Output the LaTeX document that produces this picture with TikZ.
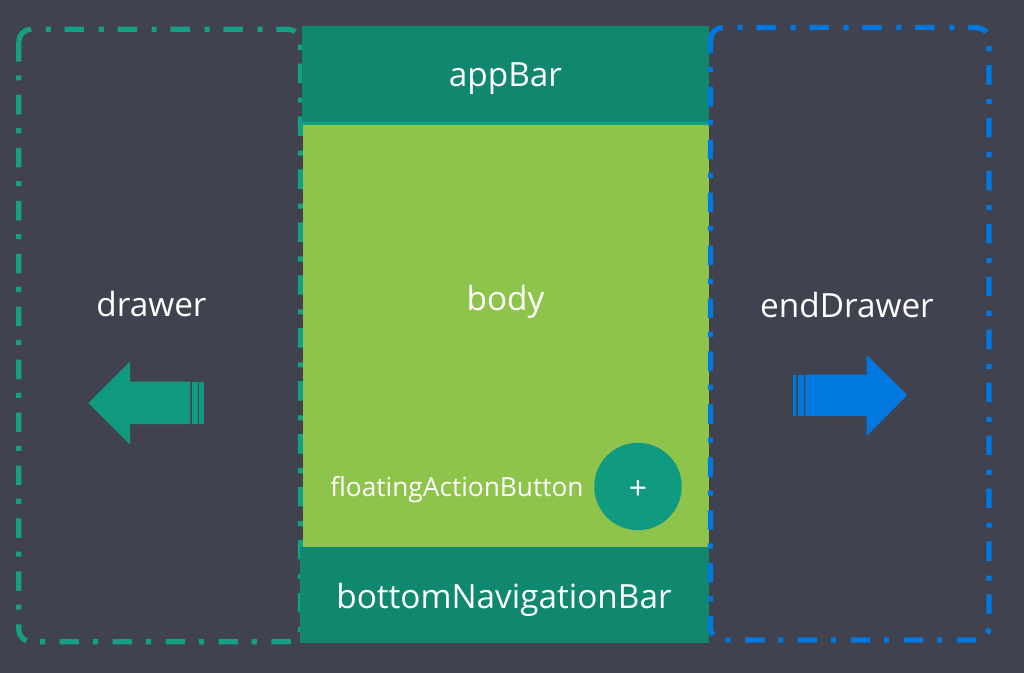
\documentclass[tikz,border=0pt]{standalone}
\usepackage{fontspec}
\setmainfont{Open Sans}
\definecolor{bgc}{RGB}{64,67,79}
\definecolor{tealbar}{RGB}{16,135,111}
\definecolor{tealline}{RGB}{19,160,133}
\definecolor{tealfill}{RGB}{16,155,128}
\definecolor{bodyc}{RGB}{143,196,76}
\definecolor{bluec}{RGB}{0,120,224}
\tikzset{
  frame/.style={line width=3.9pt,dash pattern=on 14.6pt off 11pt on 3.8pt off 10.3pt},
  big/.style={text=white,anchor=base,inner sep=0pt,font=\fontsize{25pt}{30pt}\selectfont},
  small/.style={text=white,anchor=base,inner sep=0pt,font=\fontsize{19.7pt}{24pt}\selectfont},
}
\begin{document}
\begin{tikzpicture}[x=0.75pt,y=-0.75pt]
\useasboundingbox (0,0) rectangle (1024,673);
\fill[bgc] (0,0) rectangle (1024,673);
% left frame
\draw[frame,tealline] (18.7,41.8) arc[start angle=180,end angle=90,radius=9.4pt] -- (288,29.3) arc[start angle=90,end angle=0,radius=9.4pt] -- (300.5,629.2) arc[start angle=0,end angle=-90,radius=9.4pt] -- (31.2,641.7) arc[start angle=-90,end angle=-180,radius=9.4pt] -- cycle;
% centre
\fill[tealbar] (301.7,26) rectangle (709,122);
\fill[tealline] (302,122) rectangle (709,125);
\fill[bodyc] (302.7,125) rectangle (709,547);
\fill[tealbar] (300,547) rectangle (709,642.7);
% right frame
\draw[frame,bluec] (710.5,40) arc[start angle=180,end angle=90,radius=9.4pt] -- (976.5,27.5) arc[start angle=90,end angle=0,radius=9.4pt] -- (989,627.5) arc[start angle=0,end angle=-90,radius=9.4pt] -- (723,640) arc[start angle=-90,end angle=-180,radius=9.4pt] -- cycle;
% left arrow
\fill[tealfill] (88.3,403) -- (130,361.7) -- (130,381.7) -- (190.3,381.7) -- (190.3,424) -- (130,424) -- (130,444.3) -- cycle;
\fill[tealfill] (191.5,381.7) rectangle (198.2,424);
\fill[tealfill] (199.4,381.7) rectangle (203.5,424);
% right arrow
\fill[bluec] (907.3,395) -- (866.7,355) -- (866.7,374.7) -- (805.4,374.7) -- (805.4,416) -- (866.7,416) -- (866.7,436) -- cycle;
\fill[bluec] (797.5,374.7) rectangle (804.2,416);
\fill[bluec] (792.5,374.7) rectangle (796.3,416);
% button
\node[circle,fill=tealfill,minimum size=65.6pt,inner sep=0pt] (fab) at (638,486.5) {};
% text
\node[big] (appbar) at (505.5,87) {appBar};
\node[big] (body) at (505.5,311) {body};
\node[big] (drawer) at (151.5,317) {drawer};
\node[big] (enddrawer) at (847,318) {endDrawer};
\node[big] (bottomnav) at (504,608) {bottomNavigationBar};
\node[small] (fablabel) at (457,496) {floatingActionButton};
\node[text=white,inner sep=0pt,font=\fontsize{24pt}{28pt}\selectfont] (plus) at (638,490) {+};
\end{tikzpicture}
\end{document}
